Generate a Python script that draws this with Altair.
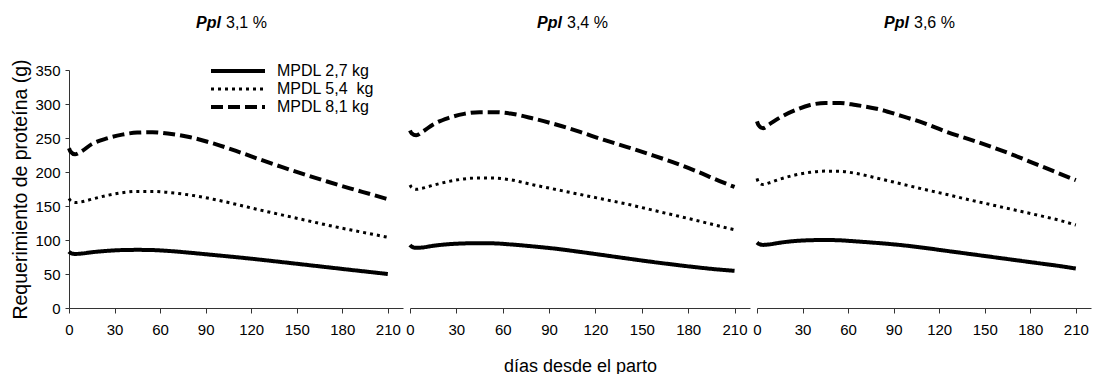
import altair as alt
import pandas as pd

dias = [0, 1, 4, 8, 15, 25, 35, 45, 55, 65, 80, 95, 110, 125, 140, 155, 170, 185, 200, 210]

series = ["MPDL 2,7 kg", "MPDL 5,4\u00a0 kg", "MPDL 8,1 kg"]
paneles = ["3,1 %", "3,4 %", "3,6 %"]
x_ticks = [0, 30, 60, 90, 120, 150, 180, 210]
y_ticks = [0, 50, 100, 150, 200, 250, 300, 350]

# Ppl 3,1 %
p31_27 = [83, 81, 79.5, 80, 82, 84, 85.2, 85.5, 85.2, 84, 81.2, 78, 74.8, 71.3, 67.6, 63.8, 60, 56.2, 52.5, 50]
p31_54 = [161, 158, 155, 156, 160, 165.5, 169.5, 171.5, 171.5, 170, 166, 160, 152.5, 144.5, 137, 129.5, 122, 115, 108.5, 104]
p31_81 = [235, 230, 226, 230, 241, 249.5, 255, 258, 258.5, 256.5, 251, 242, 231, 219, 207.5, 196.5, 186, 176, 166.5, 160]
# Ppl 3,4 %
p34_27 = [92.8, 90.5, 88.5, 89, 91.5, 93.8, 95, 95.3, 95, 93.5, 90.5, 87, 82.5, 77.8, 73, 68.3, 64, 60, 56.5, 54.7]
p34_54 = [181, 177.5, 174.5, 176, 180.5, 186, 189.8, 191.3, 191, 188.5, 181, 174, 167, 160, 153, 145, 137, 129, 120.5, 115]
p34_81 = [261, 257, 254, 259, 270, 279.5, 285.5, 288, 288, 286, 278.5, 269.5, 259, 247.5, 237, 226, 214.5, 201.5, 187, 178]
# Ppl 3,6 %
p36_27 = [96.2, 94.5, 92.8, 93.5, 96, 98.5, 99.7, 100, 99.5, 98, 95.5, 92.5, 88.5, 84, 79.5, 75, 70.5, 66, 61.5, 58]
p36_54 = [190.6, 185, 181.5, 184, 189.5, 195.5, 199.5, 201.3, 201, 198, 190.5, 182.5, 174.5, 167, 159, 151.5, 144, 136.5, 128.5, 122]
p36_81 = [274.6, 269, 264.5, 270, 280, 290.8, 298.5, 301.5, 301.5, 298.5, 292.5, 282.5, 272, 259, 248, 236.5, 224, 210.5, 197, 188]

valores = {
    paneles[0]: [p31_27, p31_54, p31_81],
    paneles[1]: [p34_27, p34_54, p34_81],
    paneles[2]: [p36_27, p36_54, p36_81],
}

FONT = "Liberation Sans"
widths = [334, 340, 334]
H = 238


def panel(i):
    nombre = paneles[i]
    rows = []
    for s, vals in zip(series, valores[nombre]):
        for d, v in zip(dias, vals):
            rows.append({"dia": d, "valor": v, "serie": s})
    df = pd.DataFrame(rows)

    if i == 0:
        yaxis = alt.Axis(values=y_ticks, title="Requerimiento de proteína (g)", grid=False,
                         tickSize=4, labelFontSize=15, titleFontSize=19.5, titleFontWeight="normal",
                         labelPadding=5, titlePadding=4, domainColor="#333", tickColor="#333",
                         labelColor="#000", titleColor="#000", labelFont=FONT, titleFont=FONT)
        legend = alt.Legend(title=None, orient="none", legendX=140, legendY=-6, symbolType="stroke",
                            symbolSize=2916, symbolStrokeWidth=2.5, symbolStrokeColor="#000",
                            clipHeight=14, labelFontSize=16, labelFont=FONT, labelColor="#000",
                            labelOffset=10, rowPadding=2, padding=0)
    else:
        yaxis = None
        legend = None

    xaxis = alt.Axis(values=x_ticks, title="días desde el parto" if i == 1 else None, grid=False,
                     tickSize=5, labelFontSize=15, titleFontSize=18, titleFontWeight="normal",
                     labelPadding=9, titlePadding=20, domainColor="#333", tickColor="#333",
                     labelColor="#000", titleColor="#000", labelFont=FONT, titleFont=FONT,
                     labelFlush=False, labelOverlap=False)

    lines = alt.Chart(df).mark_line(color="black", interpolate="monotone", strokeCap="butt").encode(
        x=alt.X("dia:Q", scale=alt.Scale(domain=[0, 220], nice=False), axis=xaxis),
        y=alt.Y("valor:Q", scale=alt.Scale(domain=[0, 350], nice=False), axis=yaxis),
        strokeDash=alt.StrokeDash("serie:N", scale=alt.Scale(domain=series, range=[[1, 0], [3, 4], [12, 5]]),
                                  legend=legend, sort=series),
        strokeWidth=alt.StrokeWidth("serie:N", scale=alt.Scale(type="ordinal", domain=series, range=[4, 3, 4]),
                                    legend=None),
        detail="serie:N",
    )

    tdf = pd.DataFrame({"a": ["Ppl"], "b": [nombre]})
    t1 = alt.Chart(tdf).mark_text(align="right", baseline="middle", fontSize=16, font=FONT,
                                  fontStyle="italic", fontWeight="bold", color="#000").encode(
        text="a:N", x=alt.value(152), y=alt.value(-47))
    t2 = alt.Chart(tdf).mark_text(align="left", baseline="middle", fontSize=16, font=FONT,
                                  color="#000").encode(
        text="b:N", x=alt.value(157), y=alt.value(-47))

    return alt.layer(lines, t1, t2).properties(width=widths[i], height=H)


chart = alt.hconcat(panel(0), panel(1), panel(2), spacing=7, bounds="flush").resolve_scale(
    strokeDash="independent", strokeWidth="independent", x="independent", y="independent"
).resolve_legend(strokeDash="independent", strokeWidth="independent").configure_view(
    stroke=None
).properties(padding={"left": 10, "top": 15, "right": 2, "bottom": 0})

chart.save("out.html", embed_options={"renderer": "svg", "actions": False})
